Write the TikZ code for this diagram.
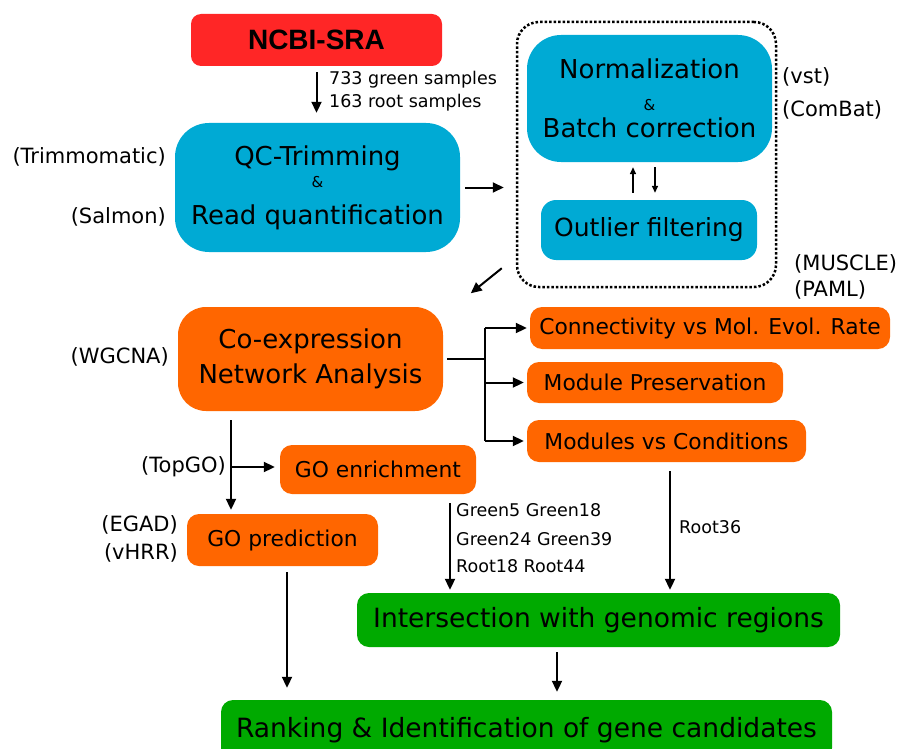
\documentclass[tikz,border=0pt]{standalone}
\usepackage{fontspec}
\setmainfont{DejaVu Sans}
\newfontfamily\headfont{Liberation Sans}
\usepackage{tikz}
\usetikzlibrary{arrows.meta, positioning, calc}
\definecolor{ncbired}{RGB}{255,38,38}
\definecolor{qcblue}{RGB}{0,170,212}
\definecolor{coorange}{RGB}{255,102,0}
\definecolor{intgreen}{RGB}{0,170,0}
\tikzset{
  redbox/.style={rectangle, fill=ncbired, rounded corners=10pt, inner sep=0pt,
    font=\headfont\bfseries\fontsize{28}{32}\selectfont},
  bluebox/.style={rectangle, fill=qcblue, rounded corners=34pt, inner sep=0pt,
    align=center, font=\fontsize{26}{29}\selectfont},
  smallblue/.style={bluebox, rounded corners=15pt, font=\fontsize{25}{29}\selectfont},
  orangebox/.style={rectangle, fill=coorange, rounded corners=12pt, inner sep=0pt,
    align=center, font=\fontsize{21.8}{24}\selectfont},
  bigorange/.style={orangebox, rounded corners=28pt, font=\fontsize{26}{29}\selectfont},
  greenbox/.style={rectangle, fill=intgreen, rounded corners=12pt, inner sep=0pt,
    font=\fontsize{26.5}{29}\selectfont},
  dotbox/.style={rectangle, draw, dash pattern=on 2.5pt off 2pt, line width=2.5pt,
    rounded corners=22pt, inner sep=0pt},
  tool/.style={inner sep=0pt, font=\fontsize{21}{24}\selectfont},
  note/.style={inner sep=0pt, font=\fontsize{17.5}{20}\selectfont},
  arrow/.style={-{Triangle[length=11pt,width=10pt]}, line width=2pt},
  smallarrow/.style={-{Triangle[length=7pt,width=6pt]}, line width=1.5pt},
  line/.style={line width=2pt}
}

\begin{document}
\begin{tikzpicture}[x=1pt, y=-1pt]
  \useasboundingbox (0,0) rectangle (910,749);
  \clip (0,0) rectangle (910,749);

  % Data source
  \node[redbox, minimum width=251pt, minimum height=52pt] (ncbi) at (316.5,40) {NCBI-SRA};
  \node[note, anchor=west] (green) at (329,80) {733 green samples};
  \node[note, anchor=west] (root) at (329,103) {163 root samples};

  % Preprocessing
  \node[bluebox, minimum width=285pt, minimum height=129pt] (qc) at (317.5,187.5)
    {QC-Trimming\\[-7pt]{\fontsize{15}{15}\selectfont\&}\\[8pt]Read quantification};
  \node[tool, anchor=east] (trim) at (166,157) {(Trimmomatic)};
  \node[tool, anchor=east] (salmon) at (166,217) {(Salmon)};

  \node[dotbox, minimum width=259pt, minimum height=265pt] (prep) at (646.5,154.5) {};
  \node[bluebox, minimum width=245pt, minimum height=127pt] (norm) at (649.5,98.5)
    {Normalization\\[3pt]{\fontsize{15}{15}\selectfont\&}\\[-2pt]Batch correction};
  \node[smallblue, minimum width=216pt, minimum height=60pt] (outl) at (649,230) {Outlier filtering};
  \node[tool, anchor=west] (vst) at (782,77) {(vst)};
  \node[tool, anchor=west] (combat) at (782,110) {(ComBat)};

  % Network analysis
  \node[bigorange, minimum width=265pt, minimum height=104pt] (coexp) at (310.5,359)
    {Co-expression\\[6pt]Network Analysis};
  \node[tool, anchor=east] (wgcna) at (169,357) {(WGCNA)};
  \node[orangebox, minimum width=360pt, minimum height=42pt] (conn) at (710,328)
    {Connectivity vs Mol. Evol. Rate};
  \node[orangebox, minimum width=256pt, minimum height=41pt] (mpres) at (655,382.5)
    {Module Preservation};
  \node[orangebox, minimum width=279pt, minimum height=42pt] (mcond) at (666.5,441)
    {Modules vs Conditions};
  \node[tool, anchor=west] (muscle) at (794,264) {(MUSCLE)};
  \node[tool, anchor=west] (paml) at (794,290) {(PAML)};

  % GO analysis
  \node[orangebox, minimum width=196pt, minimum height=49pt] (goen) at (378,469.5) {GO enrichment};
  \node[orangebox, minimum width=191pt, minimum height=52pt] (gopred) at (282.5,540) {GO prediction};
  \node[tool, anchor=east] (topgo) at (226,467) {(TopGO)};
  \node[tool, anchor=east] (egad) at (178,525) {(EGAD)};
  \node[tool, anchor=east] (vhrr) at (178,553) {(vHRR)};

  % Candidates
  \node[greenbox, minimum width=483pt, minimum height=54pt] (inter) at (598.5,620)
    {Intersection with genomic regions};
  \node[greenbox, minimum width=611pt, minimum height=60pt] (rank) at (526.5,730)
    {Ranking \& Identification of gene candidates};
  \node[note, anchor=west] (gl1) at (456,510) {Green5 Green18};
  \node[note, anchor=west] (gl2) at (456,539) {Green24 Green39};
  \node[note, anchor=west] (gl3) at (456,566) {Root18 Root44};
  \node[note, anchor=west] (r36) at (679,527) {Root36};

  % Arrows
  \draw[arrow, shorten <=6pt, shorten >=10pt] (ncbi.south) -- (ncbi.south |- qc.north);
  \draw[arrow, shorten <=5pt, shorten >=12pt] (qc.east) -- (qc.east -| prep.west);
  \draw[smallarrow, shorten <=7pt, shorten >=5pt] ([xshift=-16pt]outl.north) -- ([xshift=-16pt]outl.north |- norm.south);
  \draw[smallarrow, shorten <=5pt, shorten >=7pt] ([xshift=6pt]outl.north |- norm.south) -- ([xshift=6pt]outl.north);
  \draw[arrow] ($(prep.south west)+(-14,-20)$) -- ($(prep.south west)+(-45,5)$);

  % Branches of the network
  \coordinate (split) at (485,359);
  \draw[line, shorten <=4pt] (coexp.east) -- (split);
  \draw[line] (split |- conn.west) -- (split |- mcond.west);
  \draw[arrow, shorten >=3pt] (split |- conn.west) -- (conn.west);
  \draw[arrow, shorten >=3pt] (split |- mpres.west) -- (mpres.west);
  \draw[arrow, shorten >=3pt] (split |- mcond.west) -- (mcond.west);

  \coordinate (gosplit) at (231,467);
  \draw[arrow, shorten <=9pt, shorten >=4pt] (coexp.south -| gosplit) -- (gopred.north -| gosplit);
  \draw[arrow, shorten >=5pt] (gosplit) -- (gosplit -| goen.west);

  \draw[arrow, shorten <=9pt, shorten >=3pt] ([xshift=72pt]goen.south) -- ([xshift=72pt]goen.south |- inter.north);
  \draw[arrow, shorten <=9pt, shorten >=3pt] ([xshift=3.5pt]mcond.south) -- ([xshift=3.5pt]mcond.south |- inter.north);
  \draw[arrow, shorten <=6pt, shorten >=12pt] ([xshift=4.5pt]gopred.south) -- ([xshift=4.5pt]gopred.south |- rank.north);
  \draw[arrow, shorten <=5pt, shorten >=8pt] ([xshift=-41.5pt]inter.south) -- ([xshift=-41.5pt]inter.south |- rank.north);
\end{tikzpicture}
\end{document}
